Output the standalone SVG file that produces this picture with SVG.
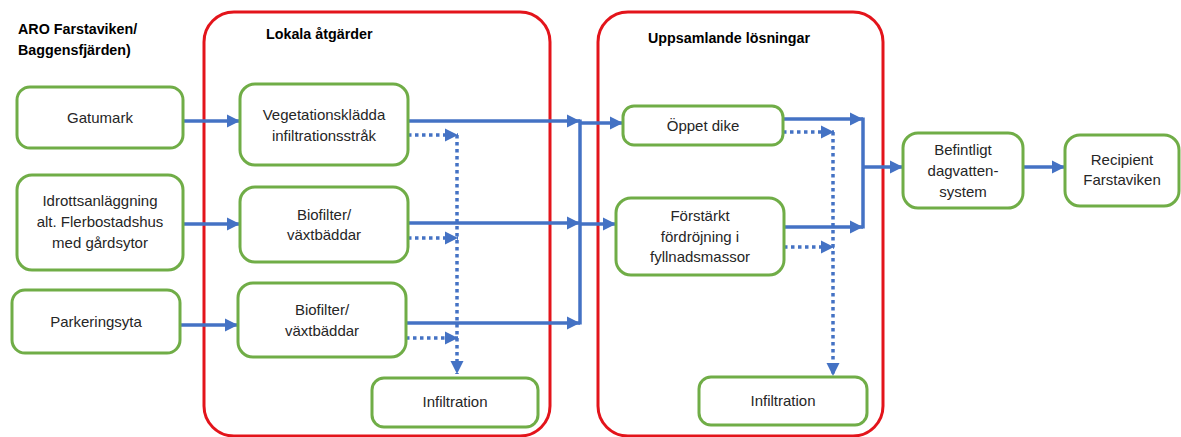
<svg xmlns="http://www.w3.org/2000/svg" width="1181" height="437" viewBox="0 0 1181 437">
<defs>
<marker id="ah" markerUnits="userSpaceOnUse" markerWidth="14" markerHeight="14" viewBox="0 0 14 14" refX="13" refY="7" orient="auto">
<path d="M0,0.5 L13,7 L0,13.5 Z" fill="#4472C4"/>
</marker>
</defs>
<style>
.grp{fill:none;stroke:#E3141B;stroke-width:3}
.nd{fill:#fff;stroke:#70AD47;stroke-width:3}
.t{font-family:"Liberation Sans",Arial,sans-serif;font-size:15px;fill:#262626;text-anchor:middle}
.h{font-family:"Liberation Sans",Arial,sans-serif;font-size:14.3px;font-weight:bold;fill:#000}
.s{fill:none;stroke:#4472C4;stroke-width:3.5}
.d{fill:none;stroke:#4472C4;stroke-width:3.5;stroke-dasharray:3.5 3.5}
</style>
<rect width="1181" height="437" fill="#fff"/>
<g id="title">
<text class="h" x="18" y="34">ARO Farstaviken/</text>
<text class="h" x="18" y="55">Baggensfjärden)</text>
</g>
<g id="lokala">
<rect class="grp" x="204" y="12" width="346" height="424" rx="30"/>
<text class="h" x="266" y="39">Lokala åtgärder</text>
</g>
<g id="uppsamlande">
<rect class="grp" x="598" y="12" width="285" height="424" rx="30"/>
<text class="h" x="648" y="43">Uppsamlande lösningar</text>
</g>
<g id="connectors">
<line class="s" x1="183" y1="121" x2="240" y2="121" marker-end="url(#ah)"/>
<line class="s" x1="183" y1="224" x2="240" y2="224" marker-end="url(#ah)"/>
<line class="s" x1="180" y1="325" x2="238" y2="325" marker-end="url(#ah)"/>
<line class="s" x1="408" y1="121" x2="580" y2="121" marker-end="url(#ah)"/>
<line class="s" x1="408" y1="223" x2="580" y2="223" marker-end="url(#ah)"/>
<line class="s" x1="406" y1="323" x2="580" y2="323" marker-end="url(#ah)"/>
<line class="s" x1="580" y1="119.5" x2="580" y2="324.5"/>
<line class="s" x1="580" y1="123" x2="623" y2="123" marker-end="url(#ah)"/>
<line class="s" x1="580" y1="224" x2="616" y2="224" marker-end="url(#ah)"/>
<line class="d" x1="408" y1="135" x2="458" y2="135" marker-end="url(#ah)"/>
<line class="d" x1="408" y1="238" x2="458" y2="238" marker-end="url(#ah)"/>
<line class="d" x1="406" y1="338" x2="458" y2="338" marker-end="url(#ah)"/>
<line class="d" x1="457" y1="135" x2="457" y2="374" marker-end="url(#ah)"/>
<line class="s" x1="783" y1="119" x2="863" y2="119" marker-end="url(#ah)"/>
<line class="s" x1="784" y1="227" x2="863" y2="227" marker-end="url(#ah)"/>
<line class="s" x1="863" y1="117.5" x2="863" y2="228.5"/>
<line class="s" x1="863" y1="167" x2="903" y2="167" marker-end="url(#ah)"/>
<line class="d" x1="783" y1="132" x2="834" y2="132" marker-end="url(#ah)"/>
<line class="d" x1="784" y1="247" x2="834" y2="247" marker-end="url(#ah)"/>
<line class="d" x1="833" y1="132" x2="833" y2="376" marker-end="url(#ah)"/>
<line class="s" x1="1023" y1="167" x2="1065" y2="167" marker-end="url(#ah)"/>
</g>
<g id="gatumark">
<rect class="nd" x="17" y="87" width="166" height="61" rx="13"/>
<text class="t" x="100" y="123">Gatumark</text>
</g>
<g id="idrott">
<rect class="nd" x="17" y="175" width="166" height="95" rx="15"/>
<text class="t" x="100" y="206">Idrottsanläggning</text>
<text class="t" x="100" y="227">alt. Flerbostadshus</text>
<text class="t" x="100" y="248">med gårdsytor</text>
</g>
<g id="parkering">
<rect class="nd" x="12" y="290" width="168" height="63" rx="13"/>
<text class="t" x="96" y="327">Parkeringsyta</text>
</g>
<g id="vegetation">
<rect class="nd" x="240" y="84" width="168" height="81" rx="15"/>
<text class="t" x="324" y="120">Vegetationsklädda</text>
<text class="t" x="324" y="141">infiltrationsstråk</text>
</g>
<g id="biofilter1">
<rect class="nd" x="240" y="187" width="168" height="75" rx="15"/>
<text class="t" x="324" y="220">Biofilter/</text>
<text class="t" x="324" y="240">växtbäddar</text>
</g>
<g id="biofilter2">
<rect class="nd" x="238" y="283" width="168" height="74" rx="15"/>
<text class="t" x="322" y="315">Biofilter/</text>
<text class="t" x="322" y="336">växtbäddar</text>
</g>
<g id="infiltration1">
<rect class="nd" x="372" y="378" width="166" height="49" rx="12"/>
<text class="t" x="455" y="407">Infiltration</text>
</g>
<g id="oppetdike">
<rect class="nd" x="623" y="106" width="160" height="39" rx="11"/>
<text class="t" x="703" y="131">Öppet dike</text>
</g>
<g id="forstarkt">
<rect class="nd" x="616" y="198" width="168" height="77" rx="15"/>
<text class="t" x="700" y="221">Förstärkt</text>
<text class="t" x="700" y="242">fördröjning i</text>
<text class="t" x="700" y="262">fyllnadsmassor</text>
</g>
<g id="infiltration2">
<rect class="nd" x="699" y="377" width="168" height="48" rx="12"/>
<text class="t" x="783" y="406">Infiltration</text>
</g>
<g id="befintligt">
<rect class="nd" x="903" y="133" width="120" height="75" rx="15"/>
<text class="t" x="963" y="155">Befintligt</text>
<text class="t" x="963" y="176">dagvatten-</text>
<text class="t" x="963" y="197">system</text>
</g>
<g id="recipient">
<rect class="nd" x="1065" y="135" width="114" height="71" rx="15"/>
<text class="t" x="1122" y="165">Recipient</text>
<text class="t" x="1122" y="185">Farstaviken</text>
</g>
</svg>
